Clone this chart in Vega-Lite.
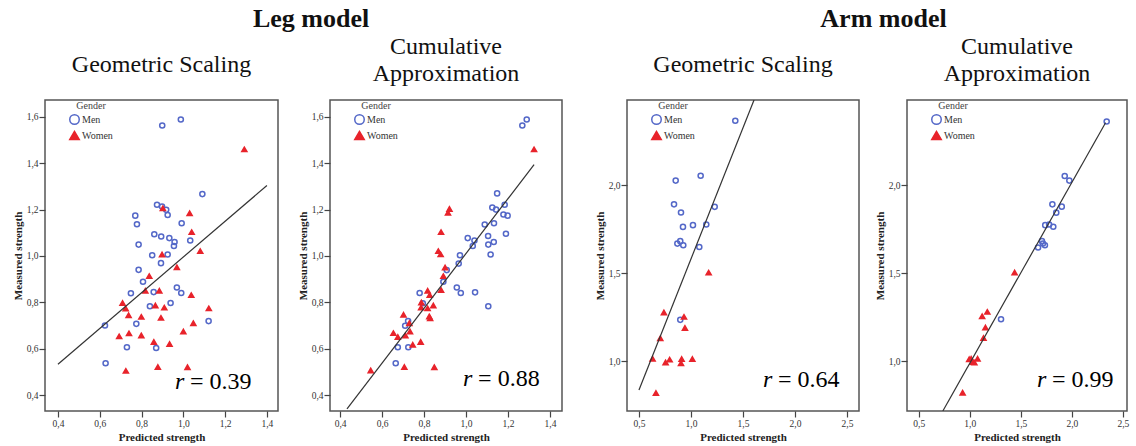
{
  "$schema": "https://vega.github.io/schema/vega-lite/v6.json",
  "padding": {"left": 11, "top": 6, "right": 0, "bottom": 0},
  "config": {
    "font": "Liberation Serif",
    "view": {"stroke": "#555", "strokeWidth": 1.5},
    "axis": {"grid": false, "domain": false, "tickSize": 6, "tickColor": "#444", "tickWidth": 1.2, "labelFont": "Liberation Serif", "labelFontSize": 9.5, "labelColor": "#333", "labelPadding": 1, "labelOverlap": false, "titleFont": "Liberation Serif", "titleFontSize": 11, "titleFontWeight": "bold", "titleColor": "#222", "labelExpr": "replace(format(datum.value, '.1f'), '.', ',')"},
    "axisX": {"titlePadding": 4},
    "axisY": {"titlePadding": 3},
    "legend": {"orient": "none", "titleFont": "Liberation Serif", "labelFont": "Liberation Serif", "titleFontSize": 10, "titleFontWeight": "normal", "labelFontSize": 10, "symbolSize": 90, "symbolStrokeWidth": 1.5, "titleAnchor": "middle", "rowPadding": 0, "titlePadding": 3, "labelOffset": 2, "titleColor": "#444", "labelColor": "#333"},
    "text": {"font": "Liberation Serif"},
    "title": {"fontSize": 24, "fontWeight": "normal", "color": "#111", "lineHeight": 27, "font": "Liberation Serif", "frame": "group", "anchor": "middle"}
  },
  "datasets": {
    "pts": [
      {"panel":"LG","gender":"Men","predicted":0.988,"measured":1.589},{"panel":"LG","gender":"Men","predicted":0.899,"measured":1.563},{"panel":"LG","gender":"Men","predicted":1.091,"measured":1.267},{"panel":"LG","gender":"Men","predicted":0.874,"measured":1.221},{"panel":"LG","gender":"Men","predicted":0.918,"measured":1.199},{"panel":"LG","gender":"Men","predicted":0.898,"measured":1.213},{"panel":"LG","gender":"Men","predicted":0.925,"measured":1.177},{"panel":"LG","gender":"Men","predicted":0.770,"measured":1.174},{"panel":"LG","gender":"Men","predicted":0.778,"measured":1.137},{"panel":"LG","gender":"Men","predicted":0.992,"measured":1.141},{"panel":"LG","gender":"Men","predicted":0.861,"measured":1.094},{"panel":"LG","gender":"Men","predicted":0.894,"measured":1.084},{"panel":"LG","gender":"Men","predicted":0.933,"measured":1.077},{"panel":"LG","gender":"Men","predicted":0.958,"measured":1.060},{"panel":"LG","gender":"Men","predicted":0.955,"measured":1.043},{"panel":"LG","gender":"Men","predicted":1.033,"measured":1.067},{"panel":"LG","gender":"Men","predicted":0.786,"measured":1.049},{"panel":"LG","gender":"Men","predicted":0.851,"measured":1.003},{"panel":"LG","gender":"Men","predicted":0.925,"measured":1.006},{"panel":"LG","gender":"Men","predicted":0.893,"measured":0.969},{"panel":"LG","gender":"Men","predicted":0.786,"measured":0.940},{"panel":"LG","gender":"Men","predicted":0.807,"measured":0.889},{"panel":"LG","gender":"Men","predicted":0.749,"measured":0.839},{"panel":"LG","gender":"Men","predicted":0.858,"measured":0.844},{"panel":"LG","gender":"Men","predicted":0.969,"measured":0.864},{"panel":"LG","gender":"Men","predicted":0.990,"measured":0.840},{"panel":"LG","gender":"Men","predicted":0.840,"measured":0.783},{"panel":"LG","gender":"Men","predicted":0.939,"measured":0.797},{"panel":"LG","gender":"Men","predicted":1.121,"measured":0.719},{"panel":"LG","gender":"Men","predicted":0.625,"measured":0.700},{"panel":"LG","gender":"Men","predicted":0.775,"measured":0.707},{"panel":"LG","gender":"Men","predicted":0.730,"measured":0.606},{"panel":"LG","gender":"Men","predicted":0.870,"measured":0.603},{"panel":"LG","gender":"Men","predicted":0.628,"measured":0.537},
      {"panel":"LG","gender":"Women","predicted":1.292,"measured":1.460},{"panel":"LG","gender":"Women","predicted":0.902,"measured":1.206},{"panel":"LG","gender":"Women","predicted":1.030,"measured":1.184},{"panel":"LG","gender":"Women","predicted":1.040,"measured":1.103},{"panel":"LG","gender":"Women","predicted":1.081,"measured":1.021},{"panel":"LG","gender":"Women","predicted":0.898,"measured":1.006},{"panel":"LG","gender":"Women","predicted":0.969,"measured":0.951},{"panel":"LG","gender":"Women","predicted":0.837,"measured":0.913},{"panel":"LG","gender":"Women","predicted":0.818,"measured":0.850},{"panel":"LG","gender":"Women","predicted":0.885,"measured":0.850},{"panel":"LG","gender":"Women","predicted":1.038,"measured":0.831},{"panel":"LG","gender":"Women","predicted":0.709,"measured":0.797},{"panel":"LG","gender":"Women","predicted":0.724,"measured":0.773},{"panel":"LG","gender":"Women","predicted":0.866,"measured":0.786},{"panel":"LG","gender":"Women","predicted":0.909,"measured":0.777},{"panel":"LG","gender":"Women","predicted":1.122,"measured":0.774},{"panel":"LG","gender":"Women","predicted":0.738,"measured":0.744},{"panel":"LG","gender":"Women","predicted":0.799,"measured":0.737},{"panel":"LG","gender":"Women","predicted":0.893,"measured":0.733},{"panel":"LG","gender":"Women","predicted":1.048,"measured":0.710},{"panel":"LG","gender":"Women","predicted":1.000,"measured":0.674},{"panel":"LG","gender":"Women","predicted":0.693,"measured":0.653},{"panel":"LG","gender":"Women","predicted":0.740,"measured":0.666},{"panel":"LG","gender":"Women","predicted":0.799,"measured":0.657},{"panel":"LG","gender":"Women","predicted":0.859,"measured":0.629},{"panel":"LG","gender":"Women","predicted":0.934,"measured":0.620},{"panel":"LG","gender":"Women","predicted":0.878,"measured":0.521},{"panel":"LG","gender":"Women","predicted":1.020,"measured":0.520},{"panel":"LG","gender":"Women","predicted":0.725,"measured":0.504},
      {"panel":"LC","gender":"Men","predicted":1.289,"measured":1.589},{"panel":"LC","gender":"Men","predicted":1.268,"measured":1.563},{"panel":"LC","gender":"Men","predicted":1.148,"measured":1.270},{"panel":"LC","gender":"Men","predicted":1.125,"measured":1.209},{"panel":"LC","gender":"Men","predicted":1.143,"measured":1.200},{"panel":"LC","gender":"Men","predicted":1.184,"measured":1.221},{"panel":"LC","gender":"Men","predicted":1.178,"measured":1.179},{"panel":"LC","gender":"Men","predicted":1.198,"measured":1.174},{"panel":"LC","gender":"Men","predicted":1.089,"measured":1.136},{"panel":"LC","gender":"Men","predicted":1.133,"measured":1.141},{"panel":"LC","gender":"Men","predicted":1.190,"measured":1.096},{"panel":"LC","gender":"Men","predicted":1.008,"measured":1.077},{"panel":"LC","gender":"Men","predicted":1.040,"measured":1.067},{"panel":"LC","gender":"Men","predicted":1.032,"measured":1.043},{"panel":"LC","gender":"Men","predicted":1.105,"measured":1.086},{"panel":"LC","gender":"Men","predicted":1.106,"measured":1.049},{"panel":"LC","gender":"Men","predicted":1.132,"measured":1.060},{"panel":"LC","gender":"Men","predicted":1.117,"measured":1.006},{"panel":"LC","gender":"Men","predicted":0.971,"measured":1.003},{"panel":"LC","gender":"Men","predicted":0.965,"measured":0.967},{"panel":"LC","gender":"Men","predicted":0.908,"measured":0.939},{"panel":"LC","gender":"Men","predicted":0.892,"measured":0.889},{"panel":"LC","gender":"Men","predicted":0.779,"measured":0.840},{"panel":"LC","gender":"Men","predicted":0.956,"measured":0.864},{"panel":"LC","gender":"Men","predicted":0.975,"measured":0.840},{"panel":"LC","gender":"Men","predicted":1.043,"measured":0.843},{"panel":"LC","gender":"Men","predicted":1.106,"measured":0.783},{"panel":"LC","gender":"Men","predicted":0.794,"measured":0.796},{"panel":"LC","gender":"Men","predicted":0.724,"measured":0.719},{"panel":"LC","gender":"Men","predicted":0.710,"measured":0.699},{"panel":"LC","gender":"Men","predicted":0.675,"measured":0.606},{"panel":"LC","gender":"Men","predicted":0.725,"measured":0.606},{"panel":"LC","gender":"Men","predicted":0.665,"measured":0.537},
      {"panel":"LC","gender":"Women","predicted":1.324,"measured":1.460},{"panel":"LC","gender":"Women","predicted":0.921,"measured":1.203},{"panel":"LC","gender":"Women","predicted":0.914,"measured":1.186},{"panel":"LC","gender":"Women","predicted":0.881,"measured":1.103},{"panel":"LC","gender":"Women","predicted":0.868,"measured":1.021},{"panel":"LC","gender":"Women","predicted":0.879,"measured":1.007},{"panel":"LC","gender":"Women","predicted":0.900,"measured":0.950},{"panel":"LC","gender":"Women","predicted":0.892,"measured":0.913},{"panel":"LC","gender":"Women","predicted":0.817,"measured":0.850},{"panel":"LC","gender":"Women","predicted":0.881,"measured":0.853},{"panel":"LC","gender":"Women","predicted":0.827,"measured":0.831},{"panel":"LC","gender":"Women","predicted":0.702,"measured":0.746},{"panel":"LC","gender":"Women","predicted":0.787,"measured":0.799},{"panel":"LC","gender":"Women","predicted":0.786,"measured":0.777},{"panel":"LC","gender":"Women","predicted":0.817,"measured":0.774},{"panel":"LC","gender":"Women","predicted":0.844,"measured":0.786},{"panel":"LC","gender":"Women","predicted":0.825,"measured":0.739},{"panel":"LC","gender":"Women","predicted":0.829,"measured":0.731},{"panel":"LC","gender":"Women","predicted":0.730,"measured":0.710},{"panel":"LC","gender":"Women","predicted":0.733,"measured":0.674},{"panel":"LC","gender":"Women","predicted":0.654,"measured":0.667},{"panel":"LC","gender":"Women","predicted":0.675,"measured":0.650},{"panel":"LC","gender":"Women","predicted":0.711,"measured":0.657},{"panel":"LC","gender":"Women","predicted":0.746,"measured":0.617},{"panel":"LC","gender":"Women","predicted":0.784,"measured":0.629},{"panel":"LC","gender":"Women","predicted":0.706,"measured":0.521},{"panel":"LC","gender":"Women","predicted":0.849,"measured":0.520},{"panel":"LC","gender":"Women","predicted":0.546,"measured":0.506},
      {"panel":"AG","gender":"Men","predicted":1.426,"measured":2.365},{"panel":"AG","gender":"Men","predicted":1.093,"measured":2.053},{"panel":"AG","gender":"Men","predicted":0.853,"measured":2.025},{"panel":"AG","gender":"Men","predicted":0.837,"measured":1.890},{"panel":"AG","gender":"Men","predicted":0.904,"measured":1.844},{"panel":"AG","gender":"Men","predicted":1.228,"measured":1.876},{"panel":"AG","gender":"Men","predicted":0.923,"measured":1.762},{"panel":"AG","gender":"Men","predicted":1.019,"measured":1.772},{"panel":"AG","gender":"Men","predicted":1.147,"measured":1.776},{"panel":"AG","gender":"Men","predicted":0.869,"measured":1.667},{"panel":"AG","gender":"Men","predicted":0.897,"measured":1.681},{"panel":"AG","gender":"Men","predicted":0.926,"measured":1.658},{"panel":"AG","gender":"Men","predicted":1.080,"measured":1.648},{"panel":"AG","gender":"Men","predicted":0.897,"measured":1.234},
      {"panel":"AG","gender":"Women","predicted":1.170,"measured":1.502},{"panel":"AG","gender":"Women","predicted":0.740,"measured":1.276},{"panel":"AG","gender":"Women","predicted":0.933,"measured":1.251},{"panel":"AG","gender":"Women","predicted":0.942,"measured":1.188},{"panel":"AG","gender":"Women","predicted":0.705,"measured":1.129},{"panel":"AG","gender":"Women","predicted":0.631,"measured":1.013},{"panel":"AG","gender":"Women","predicted":0.756,"measured":0.992},{"panel":"AG","gender":"Women","predicted":0.795,"measured":1.008},{"panel":"AG","gender":"Women","predicted":0.910,"measured":1.011},{"panel":"AG","gender":"Women","predicted":0.904,"measured":0.987},{"panel":"AG","gender":"Women","predicted":1.013,"measured":1.011},{"panel":"AG","gender":"Women","predicted":0.663,"measured":0.818},
      {"panel":"AC","gender":"Men","predicted":2.341,"measured":2.361},{"panel":"AC","gender":"Men","predicted":1.930,"measured":2.051},{"panel":"AC","gender":"Men","predicted":1.975,"measured":2.025},{"panel":"AC","gender":"Men","predicted":1.809,"measured":1.890},{"panel":"AC","gender":"Men","predicted":1.901,"measured":1.877},{"panel":"AC","gender":"Men","predicted":1.847,"measured":1.843},{"panel":"AC","gender":"Men","predicted":1.739,"measured":1.772},{"panel":"AC","gender":"Men","predicted":1.777,"measured":1.776},{"panel":"AC","gender":"Men","predicted":1.818,"measured":1.763},{"panel":"AC","gender":"Men","predicted":1.707,"measured":1.681},{"panel":"AC","gender":"Men","predicted":1.717,"measured":1.668},{"panel":"AC","gender":"Men","predicted":1.736,"measured":1.658},{"panel":"AC","gender":"Men","predicted":1.669,"measured":1.645},{"panel":"AC","gender":"Men","predicted":1.306,"measured":1.237},
      {"panel":"AC","gender":"Women","predicted":1.439,"measured":1.503},{"panel":"AC","gender":"Women","predicted":1.172,"measured":1.279},{"panel":"AC","gender":"Women","predicted":1.121,"measured":1.254},{"panel":"AC","gender":"Women","predicted":1.153,"measured":1.190},{"panel":"AC","gender":"Women","predicted":1.134,"measured":1.131},{"panel":"AC","gender":"Women","predicted":0.994,"measured":1.010},{"panel":"AC","gender":"Women","predicted":1.013,"measured":1.013},{"panel":"AC","gender":"Women","predicted":1.029,"measured":0.994},{"panel":"AC","gender":"Women","predicted":1.045,"measured":0.991},{"panel":"AC","gender":"Women","predicted":1.076,"measured":1.013},{"panel":"AC","gender":"Women","predicted":0.930,"measured":0.820}
    ],
    "fit": [
      {"panel":"LG","predicted":0.4,"measured":0.533},{"panel":"LG","predicted":1.4,"measured":1.304},
      {"panel":"LC","predicted":0.433,"measured":0.34},{"panel":"LC","predicted":1.324,"measured":1.394},
      {"panel":"AG","predicted":0.5,"measured":0.835},{"panel":"AG","predicted":1.606,"measured":2.483},
      {"panel":"AC","predicted":0.736,"measured":0.716},{"panel":"AC","predicted":2.33,"measured":2.354}
    ]
  },
  "spacing": 30,
  "resolve": {"scale": {"color": "independent", "shape": "independent", "fill": "independent"}},
  "hconcat": [
    {
      "title": {"text": "Leg model", "fontSize": 26, "fontWeight": "bold", "offset": 2, "frame": "bounds", "dx": 24},
      "spacing": 17,
      "resolve": {"scale": {"color": "independent", "shape": "independent", "fill": "independent"}},
      "hconcat": [
        {
          "width": 233, "height": 311,
          "title": {"text": "Geometric Scaling", "offset": 23},
          "layer": [
            {
              "data": {"name": "pts"}, "transform": [{"filter": "datum.panel === 'LG'"}],
              "mark": {"type": "point", "size": 26, "strokeWidth": 1.5, "opacity": 1},
              "encoding": {
                "x": {"field": "predicted", "type": "quantitative", "scale": {"domain": [0.338, 1.453], "nice": false, "zero": false}, "axis": {"values": [0.4, 0.6, 0.8, 1.0, 1.2, 1.4], "title": "Predicted strength"}},
                "y": {"field": "measured", "type": "quantitative", "scale": {"domain": [0.331, 1.673], "nice": false, "zero": false}, "axis": {"values": [0.4, 0.6, 0.8, 1.0, 1.2, 1.4, 1.6], "title": "Measured strength"}},
                "color": {"field": "gender", "type": "nominal", "scale": {"domain": ["Men", "Women"], "range": ["#5468c8", "#e8232b"]}, "legend": {"title": "Gender", "legendX": 24, "legendY": 1}},
                "shape": {"field": "gender", "type": "nominal", "scale": {"domain": ["Men", "Women"], "range": ["circle", "triangle-up"]}, "legend": {"title": "Gender", "legendX": 24, "legendY": 1}},
                "fill": {"field": "gender", "type": "nominal", "scale": {"domain": ["Men", "Women"], "range": ["transparent", "#e8232b"]}, "legend": {"title": "Gender", "legendX": 24, "legendY": 1}}
              }
            },
            {
              "data": {"name": "fit"}, "transform": [{"filter": "datum.panel === 'LG'"}],
              "mark": {"type": "line", "color": "#333", "strokeWidth": 1.2, "clip": true},
              "encoding": {
                "x": {"field": "predicted", "type": "quantitative", "axis": {"title": "Predicted strength"}},
                "y": {"field": "measured", "type": "quantitative", "axis": {"title": "Measured strength"}}
              }
            },
            {
              "data": {"values": [{"t": "r"}]},
              "mark": {"type": "text", "font": "Liberation Serif", "fontSize": 24, "fontStyle": "italic", "align": "left", "baseline": "alphabetic", "color": "#000"},
              "encoding": {"x": {"datum": 0.96, "type": "quantitative"}, "y": {"datum": 0.425, "type": "quantitative"}, "text": {"field": "t", "type": "nominal"}}
            },
            {
              "data": {"values": [{"t": "= 0.39"}]},
              "mark": {"type": "text", "font": "Liberation Serif", "fontSize": 24, "align": "left", "baseline": "alphabetic", "dx": 15, "color": "#000"},
              "encoding": {"x": {"datum": 0.96, "type": "quantitative"}, "y": {"datum": 0.425, "type": "quantitative"}, "text": {"field": "t", "type": "nominal"}}
            }
          ]
        },
        {
          "width": 232, "height": 311,
          "title": {"text": ["Cumulative", "Approximation"], "offset": 14},
          "layer": [
            {
              "data": {"name": "pts"}, "transform": [{"filter": "datum.panel === 'LC'"}],
              "mark": {"type": "point", "size": 26, "strokeWidth": 1.5, "opacity": 1},
              "encoding": {
                "x": {"field": "predicted", "type": "quantitative", "scale": {"domain": [0.352, 1.457], "nice": false, "zero": false}, "axis": {"values": [0.4, 0.6, 0.8, 1.0, 1.2, 1.4], "title": "Predicted strength"}},
                "y": {"field": "measured", "type": "quantitative", "scale": {"domain": [0.331, 1.673], "nice": false, "zero": false}, "axis": {"values": [0.4, 0.6, 0.8, 1.0, 1.2, 1.4, 1.6], "title": "Measured strength"}},
                "color": {"field": "gender", "type": "nominal", "scale": {"domain": ["Men", "Women"], "range": ["#5468c8", "#e8232b"]}, "legend": {"title": "Gender", "legendX": 24, "legendY": 1}},
                "shape": {"field": "gender", "type": "nominal", "scale": {"domain": ["Men", "Women"], "range": ["circle", "triangle-up"]}, "legend": {"title": "Gender", "legendX": 24, "legendY": 1}},
                "fill": {"field": "gender", "type": "nominal", "scale": {"domain": ["Men", "Women"], "range": ["transparent", "#e8232b"]}, "legend": {"title": "Gender", "legendX": 24, "legendY": 1}}
              }
            },
            {
              "data": {"name": "fit"}, "transform": [{"filter": "datum.panel === 'LC'"}],
              "mark": {"type": "line", "color": "#333", "strokeWidth": 1.2, "clip": true},
              "encoding": {
                "x": {"field": "predicted", "type": "quantitative", "axis": {"title": "Predicted strength"}},
                "y": {"field": "measured", "type": "quantitative", "axis": {"title": "Measured strength"}}
              }
            },
            {
              "data": {"values": [{"t": "r"}]},
              "mark": {"type": "text", "font": "Liberation Serif", "fontSize": 24, "fontStyle": "italic", "align": "left", "baseline": "alphabetic", "color": "#000"},
              "encoding": {"x": {"datum": 0.986, "type": "quantitative"}, "y": {"datum": 0.439, "type": "quantitative"}, "text": {"field": "t", "type": "nominal"}}
            },
            {
              "data": {"values": [{"t": "= 0.88"}]},
              "mark": {"type": "text", "font": "Liberation Serif", "fontSize": 24, "align": "left", "baseline": "alphabetic", "dx": 15, "color": "#000"},
              "encoding": {"x": {"datum": 0.986, "type": "quantitative"}, "y": {"datum": 0.439, "type": "quantitative"}, "text": {"field": "t", "type": "nominal"}}
            }
          ]
        }
      ]
    },
    {
      "title": {"text": "Arm model", "fontSize": 26, "fontWeight": "bold", "offset": 2, "frame": "bounds", "dx": 22},
      "spacing": 13,
      "resolve": {"scale": {"color": "independent", "shape": "independent", "fill": "independent"}},
      "hconcat": [
        {
          "width": 232, "height": 311,
          "title": {"text": "Geometric Scaling", "offset": 23},
          "layer": [
            {
              "data": {"name": "pts"}, "transform": [{"filter": "datum.panel === 'AG'"}],
              "mark": {"type": "point", "size": 26, "strokeWidth": 1.5, "opacity": 1},
              "encoding": {
                "x": {"field": "predicted", "type": "quantitative", "scale": {"domain": [0.385, 2.615], "nice": false, "zero": false}, "axis": {"values": [0.5, 1.0, 1.5, 2.0, 2.5], "title": "Predicted strength"}},
                "y": {"field": "measured", "type": "quantitative", "scale": {"domain": [0.716, 2.483], "nice": false, "zero": false}, "axis": {"values": [1.0, 1.5, 2.0], "title": "Measured strength"}},
                "color": {"field": "gender", "type": "nominal", "scale": {"domain": ["Men", "Women"], "range": ["#5468c8", "#e8232b"]}, "legend": {"title": "Gender", "legendX": 24, "legendY": 1}},
                "shape": {"field": "gender", "type": "nominal", "scale": {"domain": ["Men", "Women"], "range": ["circle", "triangle-up"]}, "legend": {"title": "Gender", "legendX": 24, "legendY": 1}},
                "fill": {"field": "gender", "type": "nominal", "scale": {"domain": ["Men", "Women"], "range": ["transparent", "#e8232b"]}, "legend": {"title": "Gender", "legendX": 24, "legendY": 1}}
              }
            },
            {
              "data": {"name": "fit"}, "transform": [{"filter": "datum.panel === 'AG'"}],
              "mark": {"type": "line", "color": "#333", "strokeWidth": 1.2, "clip": true},
              "encoding": {
                "x": {"field": "predicted", "type": "quantitative", "axis": {"title": "Predicted strength"}},
                "y": {"field": "measured", "type": "quantitative", "axis": {"title": "Measured strength"}}
              }
            },
            {
              "data": {"values": [{"t": "r"}]},
              "mark": {"type": "text", "font": "Liberation Serif", "fontSize": 24, "fontStyle": "italic", "align": "left", "baseline": "alphabetic", "color": "#000"},
              "encoding": {"x": {"datum": 1.692, "type": "quantitative"}, "y": {"datum": 0.852, "type": "quantitative"}, "text": {"field": "t", "type": "nominal"}}
            },
            {
              "data": {"values": [{"t": "= 0.64"}]},
              "mark": {"type": "text", "font": "Liberation Serif", "fontSize": 24, "align": "left", "baseline": "alphabetic", "dx": 15, "color": "#000"},
              "encoding": {"x": {"datum": 1.692, "type": "quantitative"}, "y": {"datum": 0.852, "type": "quantitative"}, "text": {"field": "t", "type": "nominal"}}
            }
          ]
        },
        {
          "width": 220, "height": 311,
          "title": {"text": ["Cumulative", "Approximation"], "offset": 14},
          "layer": [
            {
              "data": {"name": "pts"}, "transform": [{"filter": "datum.panel === 'AC'"}],
              "mark": {"type": "point", "size": 26, "strokeWidth": 1.5, "opacity": 1},
              "encoding": {
                "x": {"field": "predicted", "type": "quantitative", "scale": {"domain": [0.385, 2.54], "nice": false, "zero": false}, "axis": {"values": [0.5, 1.0, 1.5, 2.0, 2.5], "title": "Predicted strength"}},
                "y": {"field": "measured", "type": "quantitative", "scale": {"domain": [0.716, 2.483], "nice": false, "zero": false}, "axis": {"values": [1.0, 1.5, 2.0], "title": "Measured strength"}},
                "color": {"field": "gender", "type": "nominal", "scale": {"domain": ["Men", "Women"], "range": ["#5468c8", "#e8232b"]}, "legend": {"title": "Gender", "legendX": 24, "legendY": 1}},
                "shape": {"field": "gender", "type": "nominal", "scale": {"domain": ["Men", "Women"], "range": ["circle", "triangle-up"]}, "legend": {"title": "Gender", "legendX": 24, "legendY": 1}},
                "fill": {"field": "gender", "type": "nominal", "scale": {"domain": ["Men", "Women"], "range": ["transparent", "#e8232b"]}, "legend": {"title": "Gender", "legendX": 24, "legendY": 1}}
              }
            },
            {
              "data": {"name": "fit"}, "transform": [{"filter": "datum.panel === 'AC'"}],
              "mark": {"type": "line", "color": "#333", "strokeWidth": 1.2, "clip": true},
              "encoding": {
                "x": {"field": "predicted", "type": "quantitative", "axis": {"title": "Predicted strength"}},
                "y": {"field": "measured", "type": "quantitative", "axis": {"title": "Measured strength"}}
              }
            },
            {
              "data": {"values": [{"t": "r"}]},
              "mark": {"type": "text", "font": "Liberation Serif", "fontSize": 24, "fontStyle": "italic", "align": "left", "baseline": "alphabetic", "color": "#000"},
              "encoding": {"x": {"datum": 1.658, "type": "quantitative"}, "y": {"datum": 0.852, "type": "quantitative"}, "text": {"field": "t", "type": "nominal"}}
            },
            {
              "data": {"values": [{"t": "= 0.99"}]},
              "mark": {"type": "text", "font": "Liberation Serif", "fontSize": 24, "align": "left", "baseline": "alphabetic", "dx": 15, "color": "#000"},
              "encoding": {"x": {"datum": 1.658, "type": "quantitative"}, "y": {"datum": 0.852, "type": "quantitative"}, "text": {"field": "t", "type": "nominal"}}
            }
          ]
        }
      ]
    }
  ]
}
